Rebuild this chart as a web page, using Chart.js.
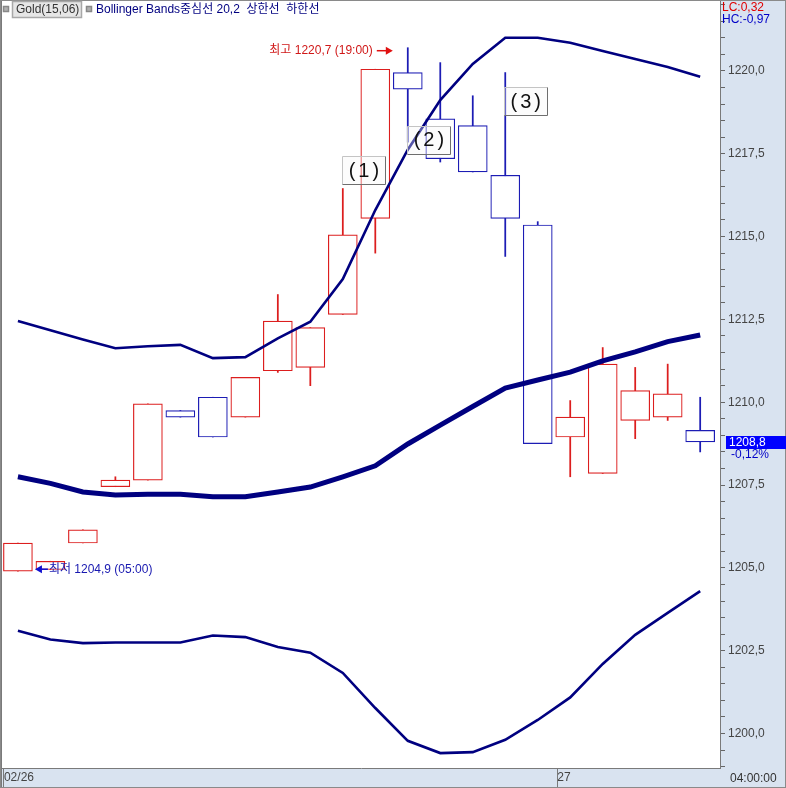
<!DOCTYPE html>
<html>
<head>
<meta charset="utf-8">
<script src="https://cdn.jsdelivr.net/npm/chart.js@4"></script>
<style>
  html, body { margin: 0; padding: 0; background: #fff; }
  #wrap { width: 786px; height: 788px; }
</style>
</head>
<body>
<div id="wrap"><canvas id="myChart" width="786" height="788"></canvas></div>
<script>
// candles (15-min gold)
const opens  = [1204.9, 1204.95, 1205.75, 1207.45, 1207.65, 1209.75, 1210.15, 1209.55, 1210.95, 1211.05, 1212.65,
                1215.55, 1219.95, 1218.55, 1218.35, 1216.85, 1215.35, 1208.95, 1207.85, 1209.45, 1209.55, 1209.15];
const closes = [1205.75, 1205.2, 1206.15, 1207.65, 1209.95, 1209.55, 1208.95, 1210.75, 1212.45, 1212.25, 1215.05,
                1220.05, 1219.45, 1217.35, 1216.95, 1215.55, 1208.75, 1209.55, 1211.15, 1210.35, 1210.25, 1208.8];
const highs  = [1205.75, 1205.2, 1206.15, 1207.75, 1209.95, 1209.75, 1210.15, 1210.75, 1213.25, 1212.25, 1216.45,
                1220.05, 1220.7, 1220.25, 1219.25, 1219.95, 1215.45, 1210.05, 1211.65, 1211.05, 1211.15, 1210.15];
const lows   = [1204.9, 1204.95, 1205.75, 1207.45, 1207.65, 1209.55, 1208.95, 1209.55, 1210.9, 1210.5, 1212.65,
                1214.5, 1217.85, 1217.25, 1216.95, 1214.4, 1208.75, 1207.75, 1207.85, 1208.9, 1209.45, 1208.5];

// bollinger bands 20,2
const upperBand  = [1212.45, 1212.17, 1211.89, 1211.63, 1211.69, 1211.73, 1211.33, 1211.36, 1211.93, 1212.43, 1213.72,
                    1215.80, 1217.62, 1219.12, 1220.21, 1221.0, 1221.0, 1220.85, 1220.60, 1220.36, 1220.12, 1219.82];
const middleBand = [1207.75, 1207.55, 1207.29, 1207.20, 1207.22, 1207.22, 1207.15, 1207.15, 1207.29, 1207.44, 1207.75,
                    1208.08, 1208.74, 1209.31, 1209.87, 1210.43, 1210.67, 1210.91, 1211.25, 1211.52, 1211.83, 1212.03];
const lowerBand  = [1203.10, 1202.84, 1202.73, 1202.75, 1202.75, 1202.75, 1202.96, 1202.91, 1202.61, 1202.44, 1201.83,
                    1200.77, 1199.78, 1199.41, 1199.44, 1199.81, 1200.41, 1201.09, 1202.10, 1202.98, 1203.64, 1204.30];

// axis labels
const yTickLabels = [1200, 1202.5, 1205, 1207.5, 1210, 1212.5, 1215, 1217.5, 1220];
const dateTickPos = [-0.43, 16.6];
const dateTickLabels = ['02/26', '27'];
const hiTime = '19:00';
const loTime = '05:00';
const changePct = '-0,12%';

// numbered notes: [label, candle index, price]
const notes = [['(1)', 10.65, 1217.0], ['(2)', 12.65, 1217.92], ['(3)', 15.63, 1219.09]];

const FONT = '"Liberation Sans", "Noto Sans CJK KR", sans-serif';
const RED = '#dc1e1e', BLUE = '#1c1cb4', NAVY = '#000080', PANEL = '#d9e3f0';

const fmt = v => v.toFixed(1).replace('.', ',');
const idx = opens.map((_, i) => i);
const colors = idx.map(i => closes[i] >= opens[i] ? RED : BLUE);
const bodies = idx.map(i => ({ x: i, y: [opens[i], closes[i]] }));
const wicks = idx.map(i => ({ x: i, y: [lows[i], highs[i]] }));
const asLine = arr => arr.map((v, i) => ({ x: i, y: v }));

// minor ticks every 0.5, labels only on the 2.5 steps
const minorTicks = [];
for (let v = 1199; v <= 1222.01; v += 0.5) minorTicks.push(v);

const panelPlugin = {
  id: 'panel',
  beforeDraw(chart) {
    const { ctx, chartArea: a, width, height } = chart;
    ctx.save();
    ctx.fillStyle = '#fff';
    ctx.fillRect(0, 0, width, height);
    ctx.fillStyle = PANEL;
    ctx.fillRect(a.right, 0, width - a.right, height);
    ctx.fillRect(0, a.bottom, width, height - a.bottom);
    ctx.restore();
  }
};

function arrow(ctx, x1, x2, y, color) {
  const dir = x2 > x1 ? 1 : -1;
  ctx.strokeStyle = color;
  ctx.fillStyle = color;
  ctx.lineWidth = 1.5;
  ctx.beginPath();
  ctx.moveTo(x1, y);
  ctx.lineTo(x2 - dir * 5, y);
  ctx.stroke();
  ctx.beginPath();
  ctx.moveTo(x2, y);
  ctx.lineTo(x2 - dir * 7, y - 4);
  ctx.lineTo(x2 - dir * 7, y + 4);
  ctx.closePath();
  ctx.fill();
}

const overlayPlugin = {
  id: 'overlay',
  afterDraw(chart) {
    const { ctx, chartArea: a, width, height } = chart;
    const xs = chart.scales.x, ys = chart.scales.y;
    ctx.save();
    ctx.textBaseline = 'middle';
    ctx.font = '12px ' + FONT;

    // frame
    ctx.strokeStyle = '#7a7a7a';
    ctx.lineWidth = 2;
    ctx.beginPath();
    ctx.moveTo(1, 0); ctx.lineTo(1, height);
    ctx.stroke();
    ctx.lineWidth = 1;
    ctx.strokeStyle = '#8a8a8a';
    ctx.strokeRect(0.5, 0.5, width - 1, height - 1);

    // notes
    notes.forEach(([t, xi, yv]) => {
      const cx = xs.getPixelForValue(xi), cy = ys.getPixelForValue(yv);
      const w = 43, h = 28, x0 = Math.round(cx - w / 2) + 0.5, y0 = Math.round(cy - h / 2) + 0.5;
      ctx.fillStyle = 'rgba(246,246,246,0.35)';
      ctx.fillRect(x0, y0, w, h);
      ctx.strokeStyle = '#c4c4c4';
      ctx.beginPath();
      ctx.moveTo(x0, y0 + h); ctx.lineTo(x0, y0); ctx.lineTo(x0 + w, y0);
      ctx.stroke();
      ctx.strokeStyle = '#6e6e6e';
      ctx.beginPath();
      ctx.moveTo(x0 + w, y0); ctx.lineTo(x0 + w, y0 + h); ctx.lineTo(x0, y0 + h);
      ctx.stroke();
      ctx.fillStyle = '#111';
      ctx.font = '20px ' + FONT;
      ctx.textAlign = 'center';
      ctx.letterSpacing = '3px';
      ctx.fillText(t, cx + 1.5, cy + 1);
      ctx.letterSpacing = '0px';
    });
    ctx.font = '12px ' + FONT;

    // highest / lowest markers
    let hi = 0, lo = 0;
    idx.forEach(i => { if (highs[i] > highs[hi]) hi = i; if (lows[i] < lows[lo]) lo = i; });
    const hx = xs.getPixelForValue(hi) - 15, hy = ys.getPixelForValue(highs[hi]) + 3;
    arrow(ctx, hx - 16, hx, hy, '#e01010');
    ctx.fillStyle = '#d01818';
    ctx.textAlign = 'right';
    ctx.fillText('최고 ' + fmt(highs[hi]) + ' (' + hiTime + ')', hx - 20, hy);
    const lx = xs.getPixelForValue(lo) + 17, ly = ys.getPixelForValue(lows[lo]) - 2;
    arrow(ctx, lx + 13, lx, ly, '#1010d0');
    ctx.fillStyle = '#1818b0';
    ctx.textAlign = 'left';
    ctx.fillText('최저 ' + fmt(lows[lo]) + ' (' + loTime + ')', lx + 14, ly);

    // legend
    ctx.fillStyle = '#b0b0b0';
    ctx.strokeStyle = '#888';
    ctx.fillRect(3.5, 6.5, 5, 5); ctx.strokeRect(3.5, 6.5, 5, 5);
    ctx.fillRect(86.5, 6.5, 5, 5); ctx.strokeRect(86.5, 6.5, 5, 5);
    ctx.fillStyle = '#e6e6e6';
    ctx.fillRect(12.5, 1.5, 69, 16);
    ctx.strokeStyle = '#a8a8a8';
    ctx.strokeRect(12.5, 1.5, 69, 16);
    ctx.fillStyle = '#333';
    ctx.fillText('Gold(15,06)', 16, 10);
    ctx.fillStyle = NAVY;
    ctx.fillText('Bollinger Bands중심선 20,2  상한선  하한선', 96, 10);

    // right panel texts
    ctx.fillStyle = '#e00000';
    ctx.fillText('LC:0,32', a.right + 2, 8);
    ctx.fillStyle = '#0000c8';
    ctx.fillText('HC:-0,97', a.right + 2, 20);

    const last = closes[closes.length - 1];
    const py = Math.round(ys.getPixelForValue(last));
    ctx.fillStyle = '#0000ff';
    ctx.fillRect(a.right + 6, py - 6, width - a.right - 6, 13);
    ctx.fillStyle = '#fff';
    ctx.fillText(fmt(last), a.right + 9, py + 1);
    ctx.fillStyle = '#0000c8';
    ctx.fillText(changePct, a.right + 11, py + 13);

    ctx.fillStyle = '#333';
    ctx.fillText('04:00:00', a.right + 10, a.bottom + 11);
    ctx.restore();
  }
};

const ctx = document.getElementById('myChart').getContext('2d');
new Chart(ctx, {
  type: 'bar',
  data: {
    datasets: [
      { type: 'line', data: asLine(middleBand), borderColor: NAVY, borderWidth: 5, pointRadius: 0, tension: 0, order: 0 },
      { type: 'line', data: asLine(upperBand), borderColor: NAVY, borderWidth: 2.6, pointRadius: 0, tension: 0, order: 0 },
      { type: 'line', data: asLine(lowerBand), borderColor: NAVY, borderWidth: 2.6, pointRadius: 0, tension: 0, order: 0 },
      { data: bodies, backgroundColor: '#fff', borderColor: colors, borderWidth: 1.2, borderSkipped: false,
        barThickness: 29, grouped: false, order: 1 },
      { data: wicks, backgroundColor: colors, borderWidth: 0, barThickness: 1.1, grouped: false, order: 2 }
    ]
  },
  options: {
    responsive: false,
    animation: false,
    events: [],
    layout: { padding: { left: 2, top: 0, right: 0, bottom: 0 } },
    plugins: { legend: { display: false }, tooltip: { enabled: false } },
    scales: {
      x: {
        type: 'linear', min: -0.49, max: 21.61, offset: false,
        afterFit: s => { s.height = 20; s.paddingLeft = 0; s.paddingRight = 0; },
        afterBuildTicks: s => { s.ticks = dateTickPos.map(v => ({ value: v })); },
        ticks: {
          callback: (v, i) => dateTickLabels[i], align: 'start', padding: -18,
          color: '#444', font: { family: FONT, size: 12 }, maxRotation: 0, autoSkip: false
        },
        grid: { drawOnChartArea: false, offset: false, tickLength: 20, color: '#7a7a7a' },
        border: { color: '#7a7a7a' }
      },
      y: {
        position: 'right', min: 1198.96, max: 1222.14,
        afterFit: s => { s.width = 66; s.paddingTop = 0; s.paddingBottom = 0; },
        afterBuildTicks: s => { s.ticks = minorTicks.map(v => ({ value: v })); },
        ticks: {
          callback: v => yTickLabels.some(t => Math.abs(t - v) < 0.01) ? fmt(v) : '',
          autoSkip: false, padding: 3, crossAlign: 'near',
          color: '#444', font: { family: FONT, size: 12 }
        },
        grid: { drawOnChartArea: false, tickLength: 5, color: '#666' },
        border: { color: '#7a7a7a' }
      }
    }
  },
  plugins: [panelPlugin, overlayPlugin]
});
</script>
</body>
</html>
